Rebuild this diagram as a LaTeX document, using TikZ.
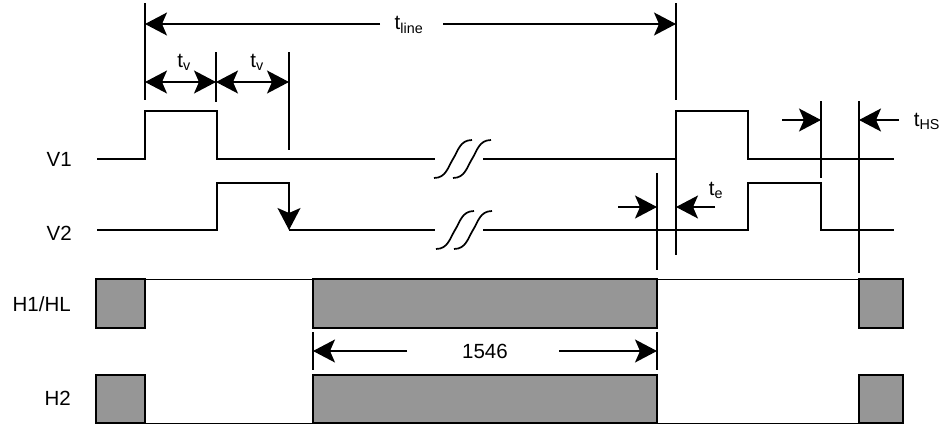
\documentclass[tikz,border=0pt]{standalone}
\usepackage{fontspec}
\setmainfont{Liberation Sans}
\usetikzlibrary{arrows.meta}
\definecolor{boxgray}{RGB}{150,150,150}
\begin{document}
\begin{tikzpicture}[x=1pt,y=-1pt,
  sig/.style={line width=1.7pt},
  dim/.style={line width=1.3pt},
  arr/.style={dim,-{Stealth[length=22pt,width=23pt,inset=5pt]}},
  darr/.style={dim,{Stealth[length=22pt,width=23pt,inset=5pt]}-{Stealth[length=22pt,width=23pt,inset=5pt]}},
  lbl/.style={font=\fontsize{20.5}{23}\selectfont, inner sep=0pt},
  hbox/.style={fill=boxgray,draw=black,line width=1.7pt},
  thin/.style={line width=0.8pt},
  brk/.pic={\draw[sig] (0,19) .. controls (12,19) and (14,8) .. (19,0) .. controls (24,-8) and (26,-19) .. (38,-19);}
]
\useasboundingbox (0,0) rectangle (946,426);

% labels
\node[lbl,anchor=east] (lV1) at (72,159) {V1};
\node[lbl,anchor=east] (lV2) at (72,233) {V2};
\node[lbl,anchor=east] (lH1) at (71,304) {H1/HL};
\node[lbl,anchor=east] (lH2) at (71,398) {H2};

% V1 waveform
\draw[sig] (97,159) -- (145,159) -- (145,111) -- (217,111) -- (217,159) -- (435,159);
\draw[sig] (483,159) -- (676,159) -- (676,111) -- (748,111) -- (748,159) -- (894,159);
\pic at (434,159) {brk};
\pic at (453,159) {brk};

% V2 waveform
\draw[sig] (97,230) -- (217,230) -- (217,183) -- (289,183) -- (289,228);
\draw[arr] (289,205) -- (289,230);
\draw[sig] (289,230) -- (435,230);
\draw[sig] (483,230) -- (748,230) -- (748,183) -- (821,183) -- (821,230) -- (894,230);
\pic at (436,230) {brk};
\pic at (454,230) {brk};

% t_line
\coordinate (L1) at (145,24);
\coordinate (L2) at (676,24);
\draw[dim] (145,3) -- (145,100);
\draw[dim] (676,3) -- (676,100);
\node[lbl] (tline) at (409,25) {t\textsubscript{line}};
\draw[arr] (380,24) -- (L1);
\draw[arr] (443,24) -- (L2);

% t_v
\draw[dim] (216,52) -- (216,102);
\draw[dim] (289,52) -- (289,150);
\draw[darr] (145,82) -- (216,82);
\draw[darr] (216,82) -- (289,82);
\node[lbl] (tv1) at (184,62) {t\textsubscript{v}};
\node[lbl] (tv2) at (257,62) {t\textsubscript{v}};

% t_e
\draw[dim] (657,173) -- (657,270);
\draw[dim] (676,159) -- (676,255);
\draw[arr] (618,207) -- (657,207);
\draw[arr] (715,207) -- (676,207);
\node[lbl] (te) at (716,190) {t\textsubscript{e}};

% t_HS
\draw[dim] (821,101) -- (821,178);
\draw[dim] (859,101) -- (859,273);
\draw[arr] (782,120) -- (821,120);
\draw[arr] (899,120) -- (859,120);
\node[lbl] (tHS) at (927,121) {t\textsubscript{HS}};

% H1/HL row
\draw[thin] (145,279) -- (859,279);
\filldraw[hbox] (96,279) rectangle (145,328);
\filldraw[hbox] (313,279) rectangle (657,328);
\filldraw[hbox] (859,279) rectangle (903,328);

% 1546
\draw[dim] (313,332) -- (313,370);
\draw[dim] (657,332) -- (657,370);
\node[lbl] (n1546) at (485,351) {1546};
\draw[arr] (407,351) -- (313,351);
\draw[arr] (559,351) -- (657,351);

% H2 row
\draw[thin] (145,423) -- (859,423);
\filldraw[hbox] (96,375) rectangle (145,423);
\filldraw[hbox] (313,375) rectangle (657,423);
\filldraw[hbox] (859,375) rectangle (903,423);
\end{tikzpicture}
\end{document}
